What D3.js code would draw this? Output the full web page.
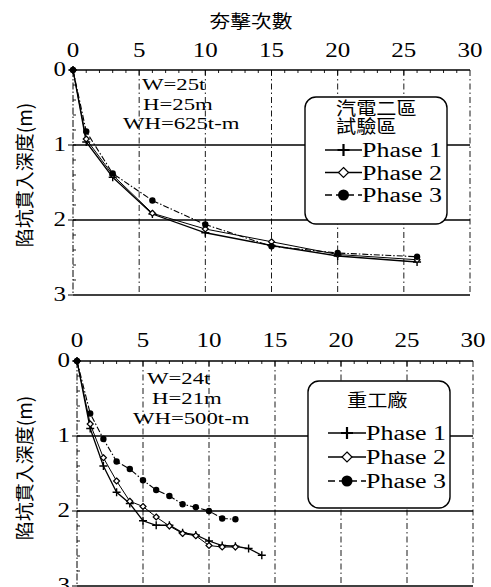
<!DOCTYPE html>
<html>
<head>
<meta charset="UTF-8">
<script src="https://cdn.jsdelivr.net/npm/d3@7"></script>
<style>
body { margin: 0; background: #fff; }
text { fill: #000; }
.sf { font-family: "Liberation Serif", "Times New Roman", "DejaVu Serif", serif; }
.cj { font-family: "Noto Sans CJK TC", "Noto Sans CJK SC", sans-serif; }
</style>
</head>
<body>
<script>
// 上圖：汽電二區試驗區
var blowsA = [0, 1, 3, 6, 10, 15, 20, 26];
var p1A = [0, 0.96, 1.43, 1.92, 2.17, 2.34, 2.48, 2.56];
var p2A = [0, 0.92, 1.40, 1.91, 2.12, 2.29, 2.46, 2.53];
var p3A = [0, 0.82, 1.38, 1.74, 2.06, 2.35, 2.44, 2.49];

// 下圖：重工廠
var blowsB1 = [0, 1, 2, 3, 4, 5, 6, 7, 8, 9, 10, 11, 12, 13, 14];
var p1B = [0, 0.90, 1.40, 1.75, 1.90, 2.13, 2.19, 2.19, 2.29, 2.32, 2.40, 2.46, 2.47, 2.50, 2.59];
var blowsB2 = [0, 1, 2, 3, 4, 5, 6, 7, 8, 9, 10, 11, 12];
var p2B = [0, 0.84, 1.29, 1.60, 1.87, 1.94, 2.08, 2.20, 2.30, 2.33, 2.46, 2.48, 2.48];
var p3B = [0, 0.70, 1.04, 1.34, 1.44, 1.59, 1.72, 1.80, 1.91, 1.95, 2.00, 2.10, 2.11];

var xTicks = [0, 5, 10, 15, 20, 25, 30];
var yTicks = [0, 1, 2, 3];
var phaseNames = ["Phase 1", "Phase 2", "Phase 3"];

var svg = d3.select("body").append("svg")
    .attr("width", 491).attr("height", 587);

// 把文字水平拉寬
function stretch(sel, k){
    sel.each(function(){
        var w = this.getComputedTextLength();
        d3.select(this).attr("textLength", w * k).attr("lengthAdjust", "spacingAndGlyphs");
    });
    return sel;
}

function marker(g, type, cx, cy, big){
    if(type == 0){
        var s = big ? 6 : 4;
        g.append("path").attr("d", "M" + (cx - s) + "," + cy + "H" + (cx + s) + "M" + cx + "," + (cy - s) + "V" + (cy + s))
            .attr("stroke", "#000").attr("stroke-width", big ? 2.2 : 1.4);
    }else if(type == 1){
        var s = big ? 5 : 3;
        g.append("path").attr("d", "M" + cx + "," + (cy - s) + "L" + (cx + s) + "," + cy + "L" + cx + "," + (cy + s) + "L" + (cx - s) + "," + cy + "Z")
            .attr("fill", "#fff").attr("stroke", "#000").attr("stroke-width", 1.2);
    }else{
        g.append("circle").attr("cx", cx).attr("cy", cy).attr("r", big ? 5.5 : 3.2).attr("fill", "#000");
    }
}

function drawPanel(cfg){
    var x = d3.scaleLinear().domain([0, 30]).range([cfg.x0, cfg.x1]);
    var y = d3.scaleLinear().domain([0, 3]).range([cfg.y0, cfg.y1]);
    var g = svg.append("g");

    // 垂直格線 (一點鏈線)
    g.selectAll(".vg").data(xTicks.slice(1)).enter().append("line")
        .attr("x1", d => x(d)).attr("x2", d => x(d))
        .attr("y1", y(0)).attr("y2", y(3))
        .attr("stroke", "#000").attr("stroke-width", 0.9)
        .attr("stroke-dasharray", "6,3,1.5,3");
    // 左軸
    g.append("line").attr("x1", x(0)).attr("x2", x(0)).attr("y1", y(0)).attr("y2", y(3))
        .attr("stroke", "#000").attr("stroke-width", 1).attr("stroke-dasharray", "7,2,1.5,2");
    // 水平線
    g.selectAll(".hg").data(yTicks).enter().append("line")
        .attr("x1", x(0)).attr("x2", x(30))
        .attr("y1", d => y(d)).attr("y2", d => y(d))
        .attr("stroke", "#000").attr("stroke-width", 1.6);

    // 小刻度
    g.selectAll(".mx").data(d3.range(1, 30)).enter().append("line")
        .attr("x1", d => x(d)).attr("x2", d => x(d))
        .attr("y1", y(0)).attr("y2", d => y(0) + (d % 5 == 0 ? 5 : 3))
        .attr("stroke", "#000").attr("stroke-width", 0.9);
    g.selectAll(".my").data(d3.range(0.2, 3, 0.2)).enter().append("line")
        .attr("x1", x(0)).attr("x2", x(0) + 3)
        .attr("y1", d => y(d)).attr("y2", d => y(d))
        .attr("stroke", "#000").attr("stroke-width", 0.9);
    g.selectAll(".ty").data(yTicks).enter().append("line")
        .attr("x1", x(0) - 5).attr("x2", x(0))
        .attr("y1", d => y(d)).attr("y2", d => y(d))
        .attr("stroke", "#000").attr("stroke-width", 1);

    // 刻度文字
    stretch(g.selectAll(".tx").data(xTicks).enter().append("text")
        .attr("class", "sf")
        .attr("x", d => x(d)).attr("y", cfg.tickY)
        .attr("text-anchor", "middle")
        .attr("font-size", 20)
        .text(d => d), 1.25);
    stretch(g.selectAll(".tyl").data(yTicks).enter().append("text")
        .attr("class", "sf")
        .attr("x", x(0) - 7).attr("y", d => y(d) + 6)
        .attr("text-anchor", "end")
        .attr("font-size", 20)
        .text(d => d), 1.25);

    // Y 軸標題
    g.append("text")
        .attr("class", "cj")
        .attr("transform", "translate(32," + cfg.labelY + ") rotate(-90)")
        .attr("text-anchor", "middle")
        .attr("font-size", 19)
        .text("陷坑貫入深度(m)");

    // 參數 (一個 text，三行)
    var pt = g.append("text").attr("class", "sf").attr("font-size", 17.5);
    cfg.params.forEach(function(p){
        pt.append("tspan").attr("x", p[1]).attr("y", p[2]).text(p[0]);
    });
    pt.selectAll("tspan").each(function(){
        var w = this.getComputedTextLength();
        d3.select(this).attr("textLength", w * 1.3).attr("lengthAdjust", "spacingAndGlyphs");
    });

    // 資料線
    var styles = [
        {w: 1.3, dash: null},
        {w: 1.0, dash: null},
        {w: 1.1, dash: "6,2,1.5,2"}
    ];
    var line = d3.line().x(d => x(d[0])).y(d => y(d[1]));
    cfg.series.forEach(function(s, k){
        var pts = s.xs.map((v, i) => [v, s.ys[i]]);
        g.append("path").datum(pts).attr("d", line)
            .attr("fill", "none").attr("stroke", "#000")
            .attr("stroke-width", styles[k].w)
            .attr("stroke-dasharray", styles[k].dash);
    });
    cfg.series.forEach(function(s, k){
        s.xs.forEach(function(v, i){
            marker(g, k, x(v), y(s.ys[i]), false);
        });
    });

    // 圖例
    var L = cfg.legend;
    g.append("rect").attr("x", L.x).attr("y", L.y).attr("width", L.w).attr("height", L.h)
        .attr("rx", 11).attr("ry", 11)
        .attr("fill", "#fff").attr("stroke", "#000").attr("stroke-width", 1.4);
    var tt = g.append("text").attr("class", "cj").attr("font-size", 18);
    L.title.forEach(function(t, i){
        tt.append("tspan").attr("x", L.titleX).attr("y", L.titleY + i * 18).text(t);
    });
    tt.selectAll("tspan").each(function(){
        var w = this.getComputedTextLength();
        d3.select(this).attr("textLength", w * 1.12).attr("lengthAdjust", "spacingAndGlyphs");
    });
    phaseNames.forEach(function(n, k){
        var cy = L.rowY + k * L.rowGap;
        g.append("line").attr("x1", L.lx0).attr("x2", L.lx1).attr("y1", cy).attr("y2", cy)
            .attr("stroke", "#000").attr("stroke-width", styles[k].w + 0.3)
            .attr("stroke-dasharray", k == 2 ? "7,4" : null);
        marker(g, k, (L.lx0 + L.lx1) / 2, cy, true);
        g.append("text").attr("class", "sf").attr("x", L.lx1).attr("y", cy + 7)
            .attr("font-size", 20)
            .attr("textLength", 80).attr("lengthAdjust", "spacingAndGlyphs")
            .text(n);
    });
}

// 上方 X 軸標題
stretch(svg.append("text").attr("class", "cj").attr("x", 251).attr("y", 28)
    .attr("text-anchor", "middle")
    .attr("font-size", 18)
    .text("夯擊次數"), 1.15);

drawPanel({
    x0: 73, x1: 470, y0: 70, y1: 295, tickY: 57, labelY: 175,
    params: [["W=25t", 142, 90], ["H=25m", 143, 109.5], ["WH=625t-m", 123, 129]],
    series: [
        {xs: blowsA, ys: p1A},
        {xs: blowsA, ys: p2A},
        {xs: blowsA, ys: p3A}
    ],
    legend: {x: 305, y: 97, w: 142, h: 127, title: ["汽電二區", "試驗區"], titleX: 336, titleY: 115,
             rowY: 150, rowGap: 22.5, lx0: 325, lx1: 362}
});

drawPanel({
    x0: 77, x1: 473, y0: 361, y1: 586, tickY: 347, labelY: 468,
    params: [["W=24t", 147, 384], ["H=21m", 152, 404], ["WH=500t-m", 133, 424]],
    series: [
        {xs: blowsB1, ys: p1B},
        {xs: blowsB2, ys: p2B},
        {xs: blowsB2, ys: p3B}
    ],
    legend: {x: 308, y: 381, w: 142, h: 127, title: ["重工廠"], titleX: 347, titleY: 407,
             rowY: 433, rowGap: 24, lx0: 328, lx1: 366}
});
</script>
</body>
</html>
